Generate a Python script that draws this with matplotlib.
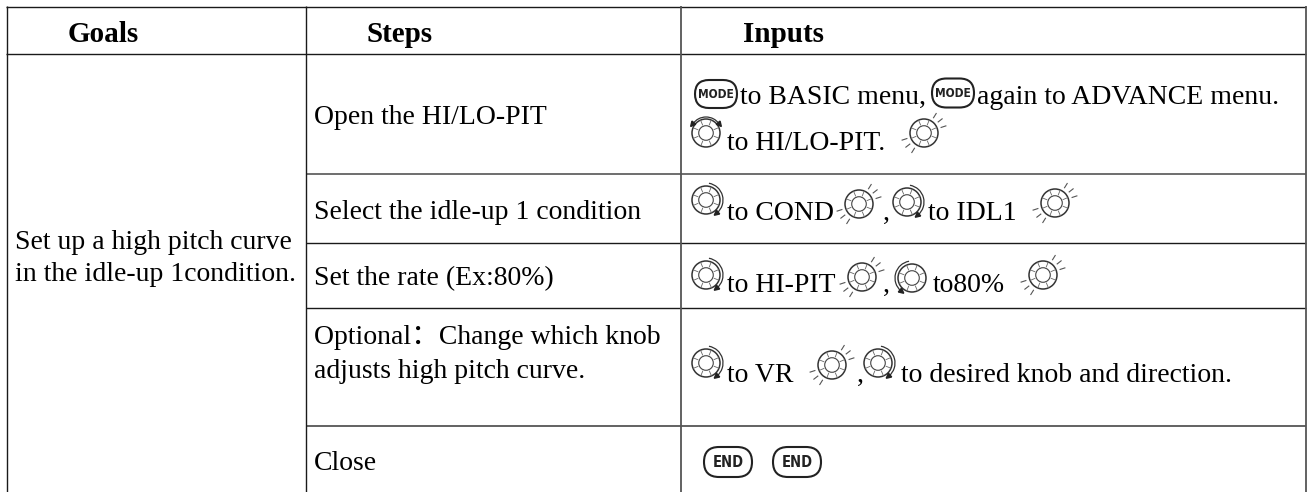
import numpy as np
import matplotlib
matplotlib.use("Agg")
import matplotlib.pyplot as plt
from matplotlib.patches import Circle, FancyBboxPatch, Arc

plt.rcParams['font.family'] = ['Liberation Serif', 'Noto Sans CJK SC']

headers = ["Goals", "Steps", "Inputs"]
goal_lines = ["Set up a high pitch curve", "in the idle-up 1condition."]
steps = ["Open the HI/LO-PIT", "Select the idle-up 1 condition", "Set the rate (Ex:80%)",
         "Optional\uff1aChange which knob", "adjusts high pitch curve.", "Close"]

W, H = 1307, 492
fig = plt.figure(figsize=(W / 100, H / 100), dpi=100)
ax = fig.add_axes([0, 0, 1, 1])
ax.set_xlim(0, W)
ax.set_ylim(H, 0)
ax.axis("off")

DARK = "#1a1a1a"
GREY = "#555555"
FS = 20


def hline(y, x0, x1, c=DARK, lw=1.0):
    ax.plot([x0, x1], [y, y], color=c, lw=lw, solid_capstyle="butt")


def vline(x, y0, y1, c=DARK, lw=1.0):
    ax.plot([x, x], [y0, y1], color=c, lw=lw, solid_capstyle="butt")


def txt(x, y, s, **kw):
    ax.text(x, y, s, fontsize=kw.pop("fontsize", FS), color="black", va="baseline", **kw)


def dial(x, y, r=14):
    # knob: outer ring, inner ring and the little ticks between them
    ax.add_patch(Circle((x, y), r, fc="white", ec="#333333", lw=1.1, zorder=3))
    ax.add_patch(Circle((x, y), r * 0.52, fc="white", ec="#444444", lw=0.8, zorder=4))
    for a in np.arange(0, 360, 45) + 22:
        t = np.deg2rad(a)
        ax.plot([x + r * 0.62 * np.cos(t), x + r * 0.98 * np.cos(t)],
                [y + r * 0.62 * np.sin(t), y + r * 0.98 * np.sin(t)], color="#666666", lw=0.6, zorder=3.5)


def arrow_tip(x, y, ang):
    t = np.deg2rad(ang)
    # small filled triangle at the end of an arc
    pts = np.array([[3.5, 0], [-1.5, -2.5], [-1.5, 2.5]])
    rot = np.array([[np.cos(t), -np.sin(t)], [np.sin(t), np.cos(t)]])
    p = pts @ rot.T + [x, y]
    ax.fill(p[:, 0], p[:, 1], color="#222222", zorder=5)


def turn(x, y, side="right"):
    dial(x, y)
    R = 17
    if side == "right":  # clockwise arc down the right side
        ax.add_patch(Arc((x, y), 2 * R, 2 * R, theta1=-80, theta2=50, ec="#333333", lw=0.9, zorder=5))
        arrow_tip(x + R * np.cos(np.deg2rad(50)), y + R * np.sin(np.deg2rad(50)), 140)
    elif side == "left":  # counter clockwise, arrow at the bottom left
        ax.add_patch(Arc((x, y), 2 * R, 2 * R, theta1=130, theta2=260, ec="#333333", lw=0.9, zorder=5))
        arrow_tip(x + R * np.cos(np.deg2rad(130)), y + R * np.sin(np.deg2rad(130)), 40)
    else:  # over the top, both ends
        R = 16
        ax.add_patch(Arc((x, y), 2 * R, 2 * R, theta1=215, theta2=325, ec="#333333", lw=0.9, zorder=5))
        arrow_tip(x + R * np.cos(np.deg2rad(215)), y + R * np.sin(np.deg2rad(215)), 130)
        arrow_tip(x + R * np.cos(np.deg2rad(325)), y + R * np.sin(np.deg2rad(325)), 50)


def press(x, y):
    dial(x, y)
    for a in [-58, -38, -18, 122, 142, 162]:
        t = np.deg2rad(a)
        ax.plot([x + 18 * np.cos(t), x + 23 * np.cos(t)], [y + 18 * np.sin(t), y + 23 * np.sin(t)],
                color="#555555", lw=0.8, zorder=3)


def button(x, y, w, h, label, fs):
    ax.add_patch(FancyBboxPatch((x - w / 2 + h / 2, y), w - h, 0,
                                boxstyle="round,pad=%g,rounding_size=%g" % (h / 2, h / 2),
                                fc="white", ec="#222222", lw=1.5, zorder=3))
    ax.text(x, y + 0.5, label, ha="center", va="center", fontsize=fs, family="DejaVu Sans",
            stretch="condensed", fontweight="bold", color="#222222", zorder=4)


# grid lines
hline(6.5, 6, 1306)
hline(53.5, 6, 1306)
hline(173.5, 305.5, 1306, GREY, 1.2)
hline(243, 305.5, 1306)
hline(307.5, 305.5, 1306)
hline(426, 305.5, 1306, GREY, 1.3)
vline(6.5, 6, 492)
vline(305.5, 6, 492)
vline(681, 6, 492, GREY, 1.3)
vline(1306, 6, 492, GREY, 1.3)

# header row
txt(68, 42, headers[0], fontweight="bold", fontsize=21)
txt(367, 42, headers[1], fontweight="bold", fontsize=21)
txt(743, 42, headers[2], fontweight="bold", fontsize=21)

# goal cell
txt(15, 249, goal_lines[0])
txt(15, 281, goal_lines[1])

# steps column
step_y = [124, 219, 285, 344, 378, 470]
for s, y in zip(steps, step_y):
    txt(313.5, y, s)

# inputs column, row 1
button(716, 94, 42, 28, "MODE", 8.6)
txt(740, 104, "to BASIC menu,")
button(953, 93, 42, 29, "MODE", 8.6)
txt(977, 104, "again to ADVANCE menu.")
turn(706, 133, "top")
txt(727, 150, "to HI/LO-PIT.")
press(924, 133)

# row 2
turn(706, 200)
txt(727, 220, "to COND")
press(859, 204)
txt(883, 220, ",")
turn(907, 202)
txt(928, 220, "to IDL1")
press(1055, 203)

# row 3
turn(706, 275)
txt(727, 292, "to HI-PIT")
press(862, 277)
txt(883, 292, ",")
turn(912, 278, "left")
txt(933, 292, "to80%")
press(1043, 275)

# row 4
turn(706, 363)
txt(727, 382, "to VR")
press(832, 365)
txt(857, 382, ",")
turn(878, 363)
txt(901, 382, "to desired knob and direction.")

# row 5
button(728, 462, 48, 30, "END", 10.5)
button(797, 462, 48, 30, "END", 10.5)

fig.savefig("out.png", dpi=100)
